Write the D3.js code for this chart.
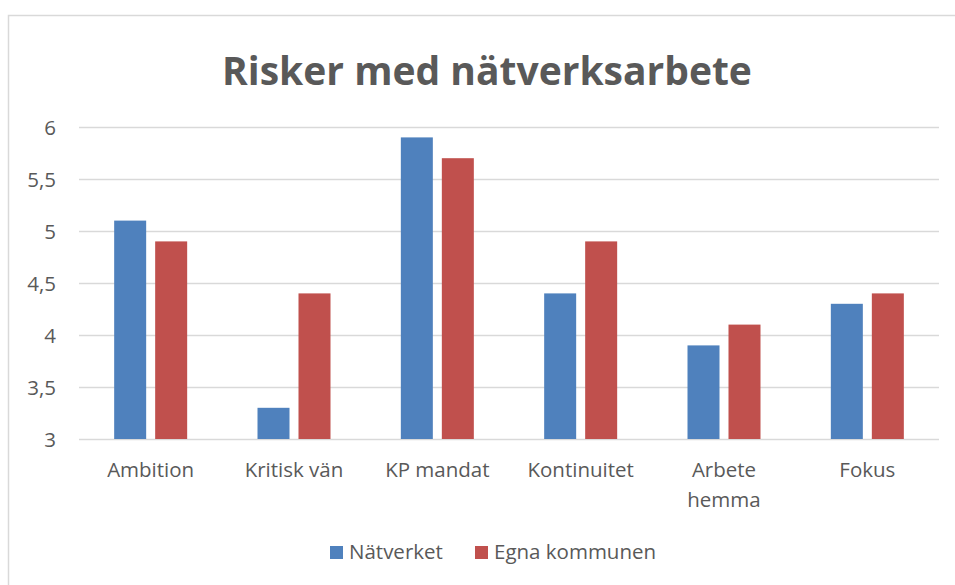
<!DOCTYPE html>
<html>
<head>
<meta charset="utf-8">
<script src="https://cdn.jsdelivr.net/npm/d3@7"></script>
<style>
  body { margin: 0; background: #fff; }
  text { font-family: "Open Sans", sans-serif; fill: #595959; }
</style>
</head>
<body>
<div id="chart"></div>
<script>
// data
var categories = ["Ambition", "Kritisk vän", "KP mandat", "Kontinuitet", "Arbete hemma", "Fokus"];
var seriesNames = ["Nätverket", "Egna kommunen"];
var natverket = [5.1, 3.3, 5.9, 4.4, 3.9, 4.3];
var egnaKommunen = [4.9, 4.4, 5.7, 4.9, 4.1, 4.4];
var yTicks = [3, 3.5, 4, 4.5, 5, 5.5, 6];
var colors = ["#4f81bd", "#c0504d"];

var width = 955, height = 585;
var plot = { left: 79, right: 939, top: 127, bottom: 439 };

var svg = d3.select("#chart").append("svg")
  .attr("width", width)
  .attr("height", height);

// chart frame
svg.append("rect")
  .attr("x", 8.5).attr("y", 15.5)
  .attr("width", 950).attr("height", 580)
  .attr("fill", "#fff")
  .attr("stroke", "#d9d9d9")
  .attr("stroke-width", 1.5);

svg.append("text")
  .attr("x", 487).attr("y", 85)
  .attr("text-anchor", "middle")
  .style("font-size", "39px")
  .style("font-weight", "bold")
  .text("Risker med nätverksarbete");

var x = d3.scaleBand().domain(categories).range([plot.left, plot.right]);
var y = d3.scaleLinear().domain([3, 6]).range([plot.bottom, plot.top]);

// gridlines
svg.append("g").selectAll("line").data(yTicks).join("line")
  .attr("x1", plot.left).attr("x2", plot.right)
  .attr("y1", function (d) { return Math.round(y(d)) + 0.5; })
  .attr("y2", function (d) { return Math.round(y(d)) + 0.5; })
  .attr("stroke", "#d9d9d9")
  .attr("stroke-width", 1.3);

var yAxis = svg.append("g")
  .attr("transform", "translate(56,0)")
  .call(d3.axisLeft(y).tickValues(yTicks).tickSize(0)
    .tickFormat(function (d) { return String(d).replace(".", ","); }));
yAxis.select(".domain").remove();
yAxis.selectAll("text")
  .attr("x", 0)
  .attr("dy", "0.35em")
  .style("font-size", "20.5px")
  .style("font-family", "'Open Sans', sans-serif")
  .attr("fill", "#595959");

// bars
var barW = 32, gap = 9;
var series = [natverket, egnaKommunen];
series.forEach(function (vals, si) {
  svg.append("g").selectAll("rect").data(vals).join("rect")
    .attr("x", function (d, i) {
      var c = x(categories[i]) + x.bandwidth() / 2;
      return si === 0 ? c - gap / 2 - barW : c + gap / 2;
    })
    .attr("y", function (d) { return y(d); })
    .attr("width", barW)
    .attr("height", function (d) { return y(3) - y(d); })
    .attr("fill", colors[si]);
});

// category labels
var xAxis = svg.append("g");
categories.forEach(function (c) {
  var t = xAxis.append("text")
    .attr("x", x(c) + x.bandwidth() / 2)
    .attr("y", 477)
    .attr("text-anchor", "middle")
    .style("font-size", "20.5px");
  var lines = c === "Arbete hemma" ? ["Arbete", "hemma"] : [c];
  lines.forEach(function (l, li) {
    t.append("tspan")
      .attr("x", x(c) + x.bandwidth() / 2)
      .attr("dy", li === 0 ? 0 : 30)
      .text(l);
  });
});

// legend
var legendX = [330, 475];
seriesNames.forEach(function (name, i) {
  var g = svg.append("g").attr("transform", "translate(" + legendX[i] + ",546)");
  g.append("rect").attr("width", 13).attr("height", 13).attr("fill", colors[i]);
  g.append("text").attr("x", 19).attr("y", 13)
    .style("font-size", "20.5px")
    .text(name);
});
</script>
</body>
</html>
